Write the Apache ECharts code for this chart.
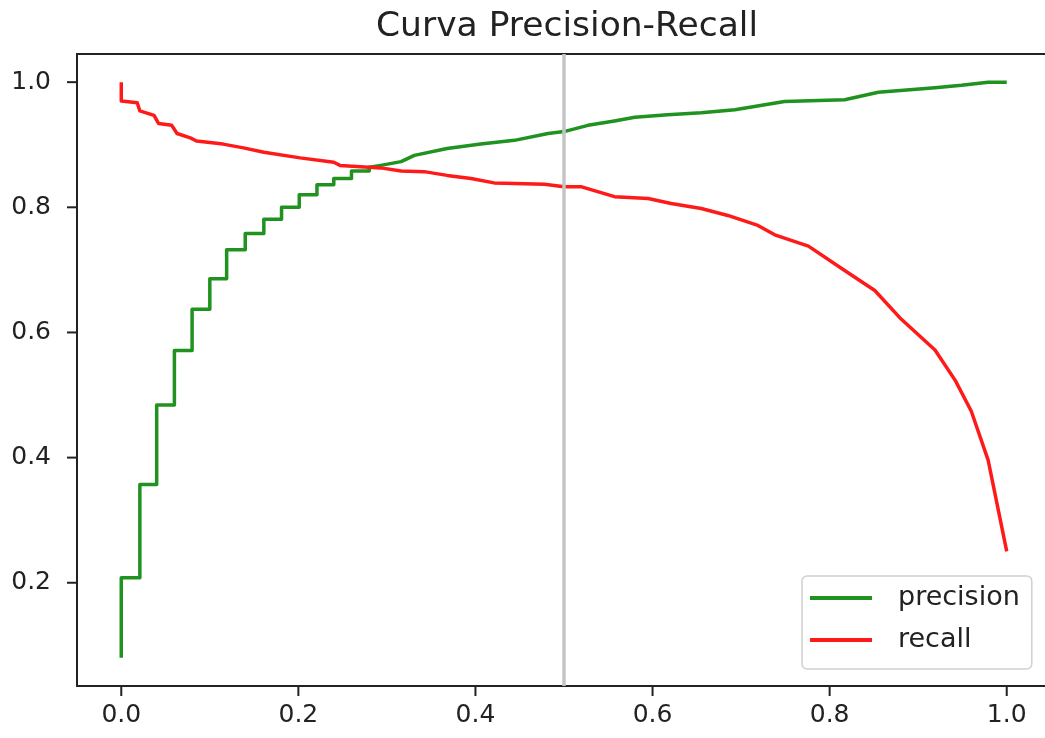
<!DOCTYPE html>
<html>
<head>
<meta charset="utf-8">
<script src="https://cdn.jsdelivr.net/npm/echarts@6/dist/echarts.min.js"></script>
<style>
	html, body { margin: 0; padding: 0; background: #fff; }
	#chart { width: 1045px; height: 738px; }
</style>
</head>
<body>
<div id="chart"></div>
<script>
var xTicks = [0, 0.2, 0.4, 0.6, 0.8, 1.0];
var yTicks = [0.2, 0.4, 0.6, 0.8, 1.0];
var thresholdLine = 0.5;

// precision vs threshold (stepped at the start)
var precisionThr = [0, 0, 0.021, 0.021, 0.040, 0.040, 0.060, 0.060, 0.080, 0.080,
	0.100, 0.100, 0.119, 0.119, 0.140, 0.140, 0.161, 0.161, 0.181, 0.181,
	0.201, 0.201, 0.221, 0.221, 0.240, 0.240, 0.260, 0.260, 0.280, 0.280,
	0.293, 0.316, 0.331, 0.368, 0.406, 0.444, 0.482, 0.500, 0.527, 0.557,
	0.580, 0.617, 0.655, 0.693, 0.749, 0.817, 0.855, 0.919, 0.949, 0.979, 1.0];
var precisionVals = [0.080, 0.208, 0.208, 0.357, 0.357, 0.484, 0.484, 0.571, 0.571, 0.637,
	0.637, 0.686, 0.686, 0.732, 0.732, 0.758, 0.758, 0.781, 0.781, 0.800,
	0.800, 0.820, 0.820, 0.836, 0.836, 0.846, 0.846, 0.858, 0.858, 0.864,
	0.867, 0.873, 0.883, 0.894, 0.901, 0.907, 0.918, 0.921, 0.931, 0.938,
	0.944, 0.948, 0.951, 0.956, 0.969, 0.972, 0.984, 0.991, 0.995, 1.0, 1.0];

// recall vs threshold
var recallThr = [0, 0, 0.018, 0.021, 0.037, 0.042, 0.057, 0.063, 0.078, 0.085,
	0.115, 0.138, 0.161, 0.202, 0.240, 0.247, 0.293, 0.316, 0.342, 0.368,
	0.395, 0.421, 0.478, 0.500, 0.519, 0.557, 0.595, 0.621, 0.655, 0.685,
	0.719, 0.738, 0.776, 0.817, 0.851, 0.881, 0.919, 0.942, 0.960, 0.979, 1.0];
var recallVals = [1.0, 0.970, 0.967, 0.954, 0.947, 0.934, 0.931, 0.918, 0.911, 0.906,
	0.901, 0.895, 0.888, 0.879, 0.872, 0.867, 0.863, 0.858, 0.857, 0.851,
	0.846, 0.839, 0.837, 0.833, 0.833, 0.817, 0.814, 0.806, 0.798, 0.787,
	0.771, 0.756, 0.738, 0.699, 0.667, 0.621, 0.572, 0.523, 0.474, 0.396, 0.250];

function pairs(xs, ys) {
	var out = [];
	for (var i = 0; i < Math.min(xs.length, ys.length); i++) {
		out.push([xs[i], ys[i]]);
	}
	return out;
}

var font = 'DejaVu Sans';
var ink = '#222';
var tickLen = 10;
var frameLine = { show: true, onZero: false, lineStyle: { color: ink, width: 2 } };
var chart = echarts.init(document.getElementById('chart'));

chart.setOption({
	animation: false,
	backgroundColor: '#fff',
	title: {
		text: 'Curva Precision-Recall',
		left: 371,
		top: 2,
		textStyle: { fontFamily: font, fontSize: 34.5, fontWeight: 'normal', color: ink, lineHeight: 40 }
	},
	legend: {
		data: ['precision', 'recall'],
		orient: 'vertical',
		left: 802,
		top: 576,
		icon: 'rect',
		itemWidth: 62,
		itemHeight: 4,
		itemGap: 12,
		padding: [7, 12, 14, 8],
		borderColor: '#d0d0d0',
		borderWidth: 1.5,
		borderRadius: 5,
		backgroundColor: '#fff',
		textStyle: { fontFamily: font, fontSize: 27, color: ink, lineHeight: 30, padding: [0, 0, 0, 21] }
	},
	// the plot box of the original is cut at the right edge of the picture,
	// so the frame is drawn with axis lines: bottom, left and top only
	grid: {
		left: 77, top: 54, bottom: 52, right: -6,
		outerBoundsMode: 'none',
		show: false
	},
	xAxis: [{
		type: 'value',
		position: 'bottom',
		min: -0.05, max: 1.05,
		axisLine: frameLine,
		splitLine: { show: false },
		axisTick: { show: false },
		axisLabel: {
			customValues: xTicks, margin: 17,
			fontFamily: font, fontSize: 25, color: ink,
			formatter: function(v) { return v.toFixed(1); }
		}
	}, {
		type: 'value',
		position: 'top',
		min: -0.05, max: 1.05,
		axisLine: frameLine,
		splitLine: { show: false },
		axisTick: { show: false },
		axisLabel: { show: false }
	}],
	yAxis: {
		type: 'value',
		position: 'left',
		min: 0.035, max: 1.045,
		axisLine: frameLine,
		splitLine: { show: false },
		axisTick: { show: false },
		axisLabel: {
			customValues: yTicks, margin: 26,
			fontFamily: font, fontSize: 25, color: ink,
			formatter: function(v) { return v.toFixed(1); }
		}
	},
	series: [{
		name: 'precision',
		type: 'line',
		showSymbol: false,
		symbol: 'none',
		color: '#1f921f',
		lineStyle: { width: 3.5, color: '#1f921f', join: 'round' },
		data: pairs(precisionThr, precisionVals),
		z: 2
	}, {
		name: 'recall',
		type: 'line',
		showSymbol: false,
		symbol: 'none',
		color: '#ff1a1a',
		lineStyle: { width: 3.5, color: '#ff1a1a', join: 'round' },
		data: pairs(recallThr, recallVals),
		z: 3
	}, {
		name: 'threshold',
		type: 'line',
		data: [],
		z: 4,
		markLine: {
			silent: true,
			symbol: 'none',
			label: { show: false },
			lineStyle: { color: '#c4c4c4', width: 3.5, type: 'solid' },
			data: [{ xAxis: thresholdLine }]
		}
	}]
});

// outward tick marks, placed through the axes' own scales
var gridRect = chart.getModel().getComponent('grid').coordinateSystem.getRect();
var ticks = [];
xTicks.forEach(function(v) {
	var px = chart.convertToPixel({ xAxisIndex: 0 }, v);
	ticks.push({
		type: 'line', silent: true,
		shape: { x1: px, y1: gridRect.y + gridRect.height, x2: px, y2: gridRect.y + gridRect.height + tickLen },
		style: { stroke: ink, lineWidth: 2 }
	});
});
yTicks.forEach(function(v) {
	var py = chart.convertToPixel({ yAxisIndex: 0 }, v);
	ticks.push({
		type: 'line', silent: true,
		shape: { x1: gridRect.x - tickLen, y1: py, x2: gridRect.x, y2: py },
		style: { stroke: ink, lineWidth: 2 }
	});
});
chart.setOption({ graphic: ticks });
</script>
</body>
</html>
